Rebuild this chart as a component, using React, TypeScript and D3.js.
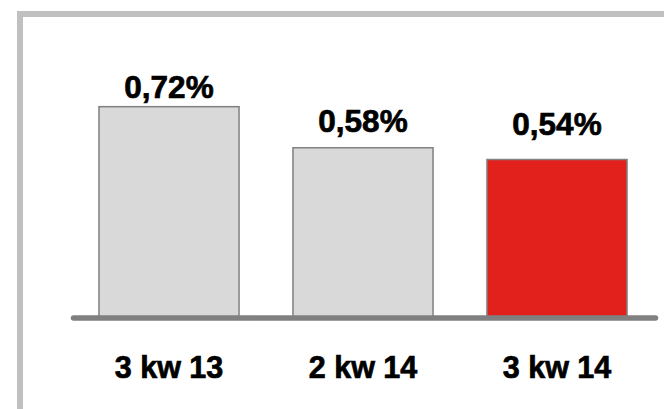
import React from "react";
import * as d3 from "d3";

const categories = ["3 kw 13", "2 kw 14", "3 kw 14"];
const values = [0.72, 0.58, 0.54];
const valueLabels = ["0,72%", "0,58%", "0,54%"];

const W = 664;
const H = 409;
const barFills = ["#d9d9d9", "#d9d9d9", "#e2211c"];
const labelGaps = [9, 16, 25];

export default function App() {
  const x = d3
    .scaleBand<string>()
    .domain(categories)
    .range([72, 654])
    .paddingInner(0.278)
    .paddingOuter(0.139);
  const y = d3.scaleLinear().domain([0, 1]).range([318, 24.5]);
  const font = "'Liberation Sans', Arial, sans-serif";

  return (
    <svg
      width={W}
      height={H}
      style={{ position: "absolute", left: 0, top: 0, background: "#fff" }}
    >
      <rect x={20} y={14} width={800} height={600} fill="none" stroke="#c0c0c0" strokeWidth={6} />
      {categories.map((c, i) => (
        <g key={c}>
          <rect
            x={x(c)!}
            y={y(values[i])}
            width={x.bandwidth()}
            height={y(0) - y(values[i])}
            fill={barFills[i]}
            stroke="#808080"
            strokeWidth={1.5}
          />
          <text
            x={x(c)! + x.bandwidth() / 2}
            y={y(values[i]) - labelGaps[i]}
            textAnchor="middle"
            fontFamily={font}
            fontWeight="bold"
            fontSize={31.5}
            fill="#000"
            stroke="#000"
            strokeWidth={0.7}
          >
            {valueLabels[i]}
          </text>
          <text
            x={x(c)! + x.bandwidth() / 2}
            y={378}
            textAnchor="middle"
            fontFamily={font}
            fontWeight="bold"
            fontSize={30.5}
            fill="#000"
            stroke="#000"
            strokeWidth={0.7}
          >
            {c}
          </text>
        </g>
      ))}
      <line
        x1={73.5}
        x2={655.5}
        y1={y(0)}
        y2={y(0)}
        stroke="#808080"
        strokeWidth={5.5}
        strokeLinecap="round"
      />
    </svg>
  );
}
